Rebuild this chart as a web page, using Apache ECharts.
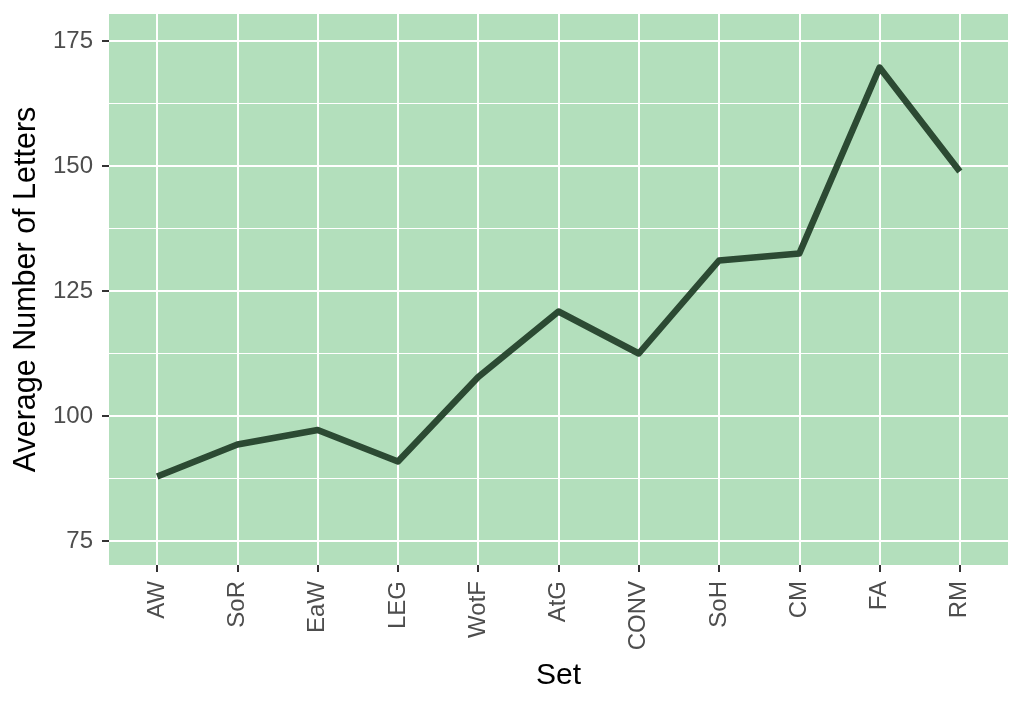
<!DOCTYPE html>
<html><head><meta charset="utf-8">
<script src="https://cdn.jsdelivr.net/npm/echarts@6/dist/echarts.min.js"></script>
<style>html,body{margin:0;padding:0;background:#fff}#c{width:1024px;height:707px}</style>
</head><body><div id="c"></div>
<script>
const categories = ["AW","SoR","EaW","LEG","WotF","AtG","CONV","SoH","CM","FA","RM"];
const values = [87.9, 94.3, 97.2, 90.9, 107.8, 120.9, 112.5, 131.1, 132.5, 169.7, 148.9];
const yTicks = [75, 100, 125, 150, 175];
const yMinor = [87.5, 112.5, 137.5, 162.5];
const yMin = 70.2, yMax = 180.4;

const chart = echarts.init(document.getElementById('c'));
const font = '"Liberation Sans", Arial, sans-serif';
const xIdx = categories.map((c, i) => i);
chart.setOption({
  animation: false,
  grid: {left: 109, right: 16, top: 14, bottom: 142, show: true, backgroundColor: '#b3dfbc', borderWidth: 0},
  xAxis: {
    type: 'value', min: -0.6, max: 10.6,
    name: 'Set', nameLocation: 'middle', nameGap: 96,
    nameTextStyle: {fontFamily: font, fontSize: 30, color: '#000'},
    axisLine: {show: false, onZero: false},
    axisTick: {show: true, length: 7, customValues: xIdx, lineStyle: {color: '#333', width: 2}},
    axisLabel: {customValues: xIdx, rotate: 90, margin: 16, fontFamily: font, fontSize: 24, color: '#4d4d4d',
      formatter: v => categories[Math.round(v)] || ''},
    splitLine: {show: true, lineStyle: {color: '#fff', width: 2}}
  },
  yAxis: [{
    type: 'value', min: yMin, max: yMax,
    name: 'Average Number of Letters', nameLocation: 'middle', nameGap: 65,
    nameTextStyle: {fontFamily: font, fontSize: 30.5, color: '#000'},
    axisLine: {show: false, onZero: false},
    axisTick: {show: true, length: 7, customValues: yTicks, lineStyle: {color: '#333', width: 2}},
    axisLabel: {customValues: yTicks, margin: 16, fontFamily: font, fontSize: 24, color: '#4d4d4d'},
    splitLine: {show: true, lineStyle: {color: '#fff', width: 2}}
  }, {
    type: 'value', min: yMin, max: yMax, position: 'left',
    axisLine: {show: false, onZero: false}, axisTick: {show: false, customValues: yMinor},
    axisLabel: {show: false, customValues: yMinor},
    splitLine: {show: true, lineStyle: {color: '#fff', width: 1}}
  }],
  series: [{
    type: 'line', yAxisIndex: 0,
    data: values.map((v, i) => [i, v]),
    symbol: 'none',
    lineStyle: {color: '#2c4a33', width: 6.5, join: 'round', cap: 'butt'},
    z: 5
  }]
});
</script></body></html>
